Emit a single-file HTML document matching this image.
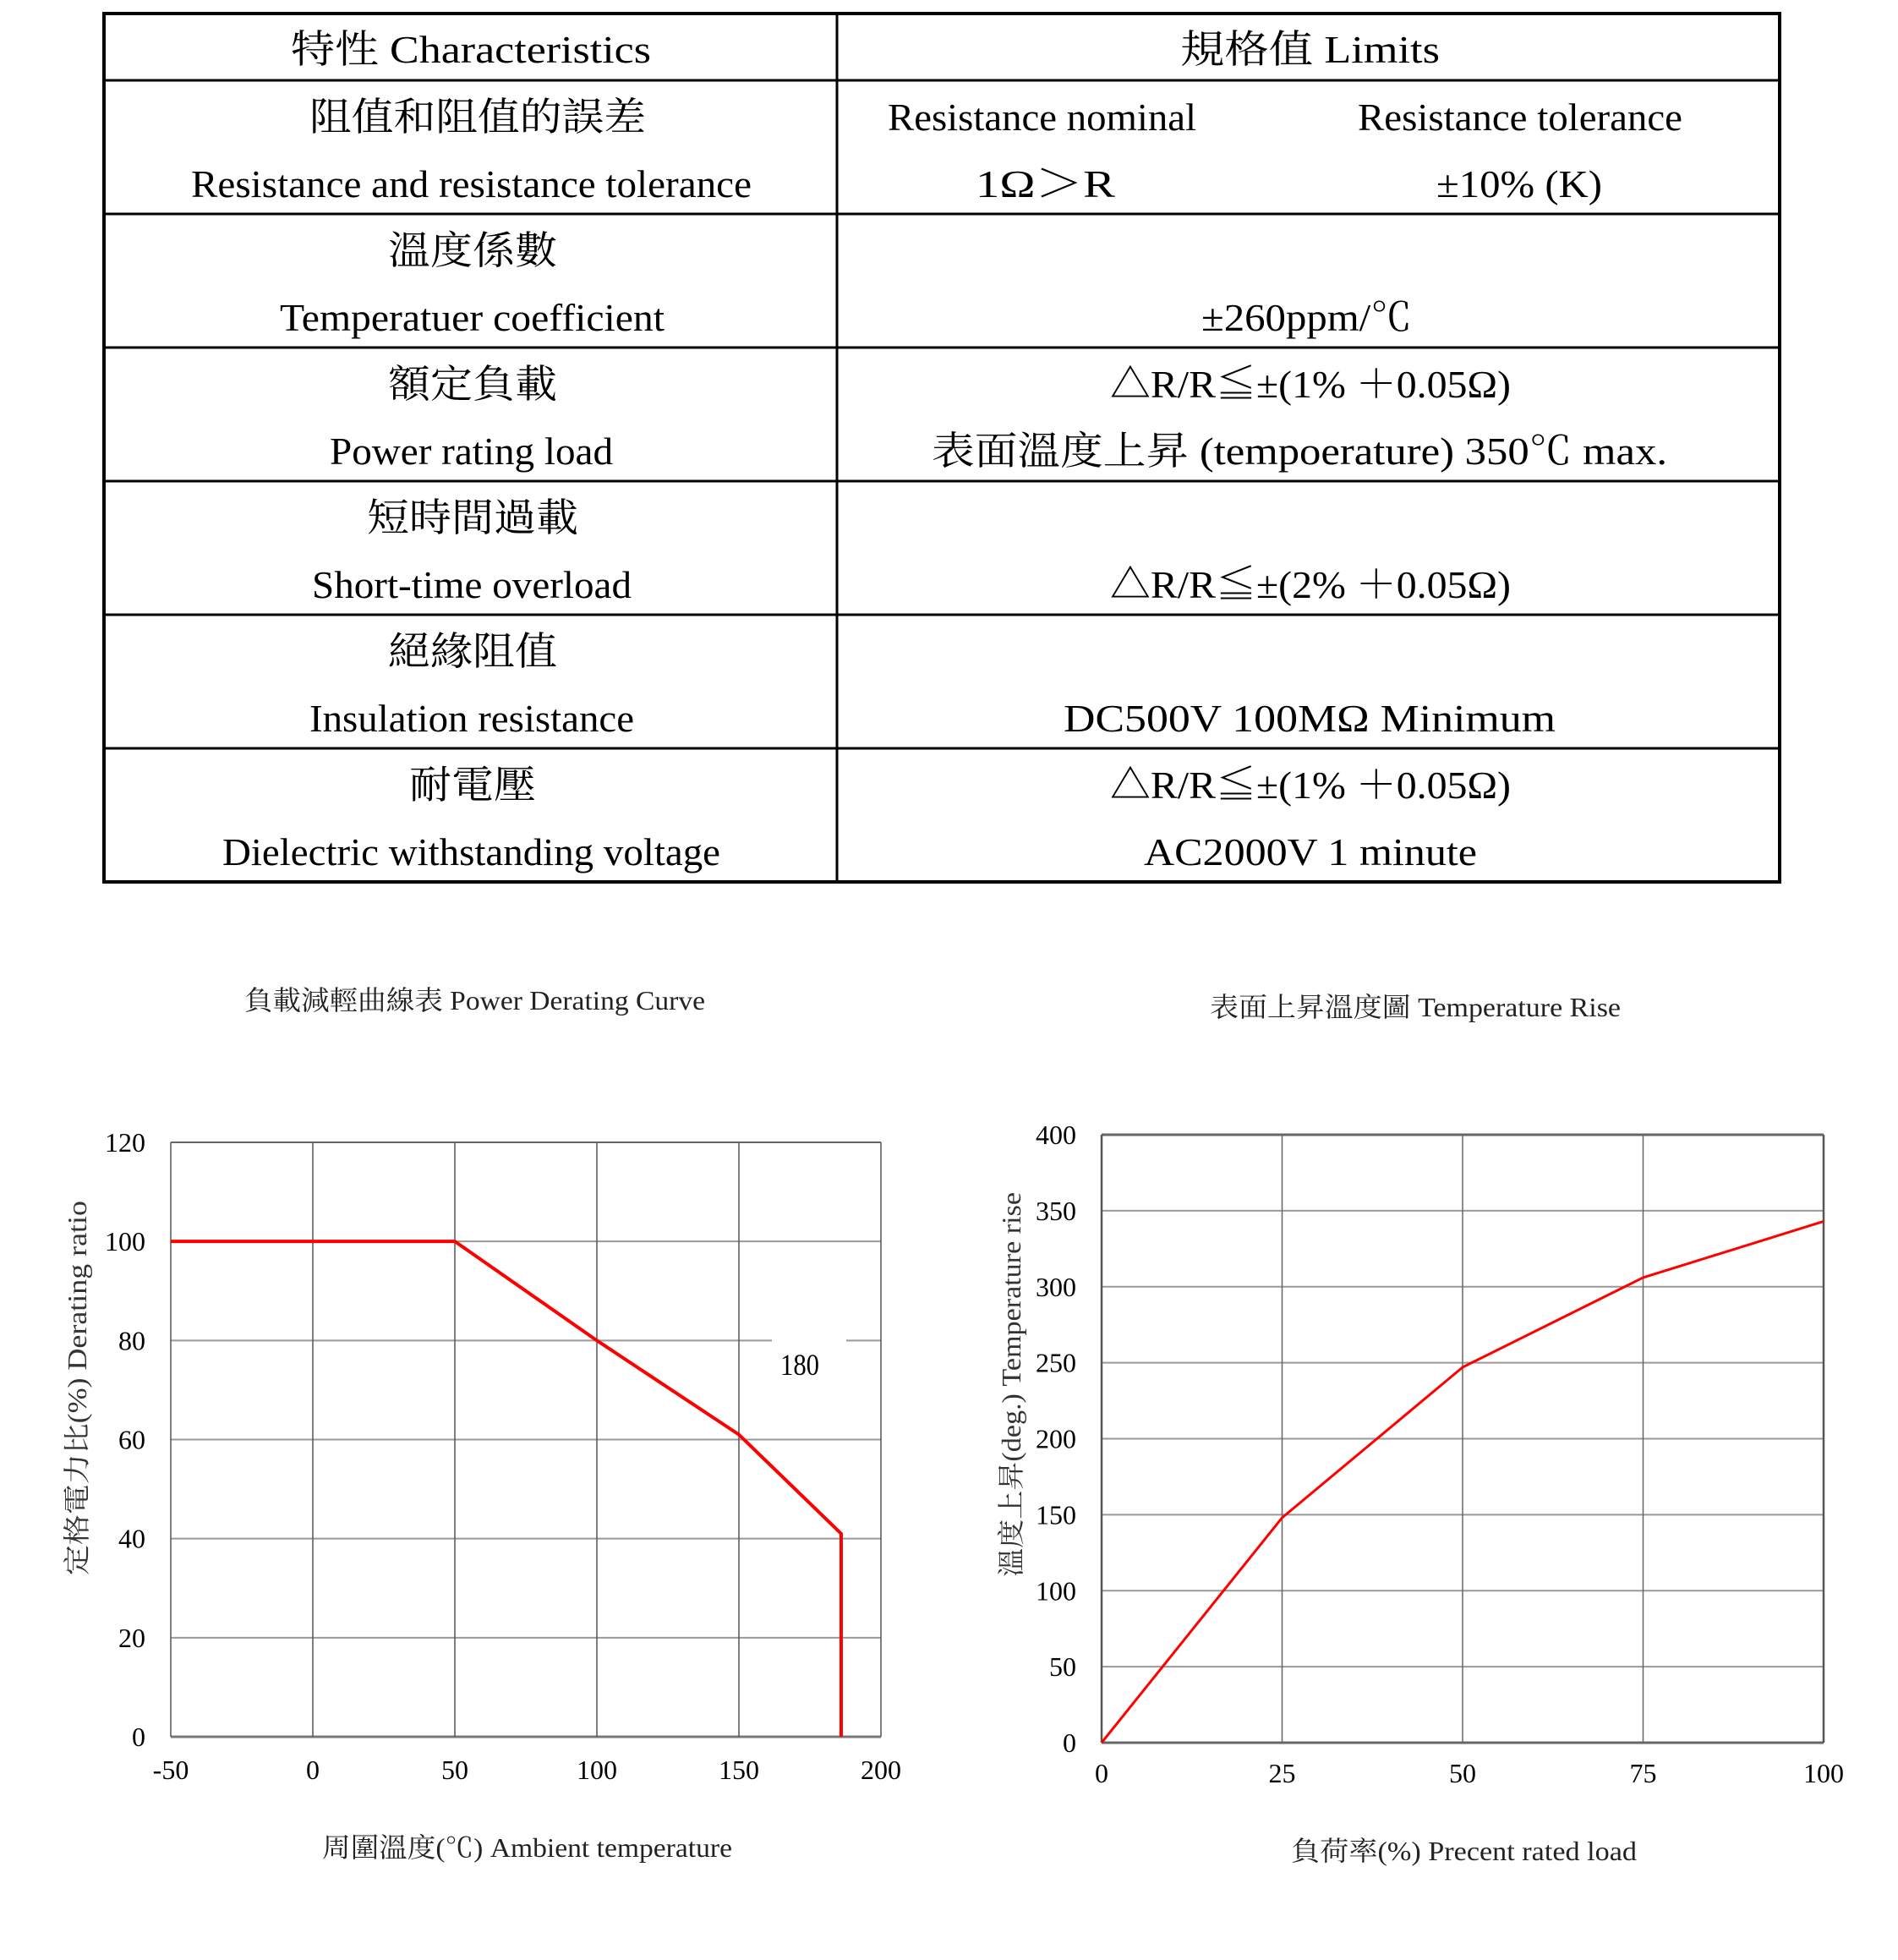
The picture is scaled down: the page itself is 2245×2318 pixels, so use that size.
<!DOCTYPE html>
<html><head><meta charset="utf-8"><style>
html,body{margin:0;padding:0;background:#fff;}
svg{display:block;}
text{font-family:"Liberation Serif","Noto Serif CJK SC","Noto Sans CJK TC",serif;}
</style></head><body>
<svg id="root" width="2245" height="2318" viewBox="0 0 2245 2318" xmlns="http://www.w3.org/2000/svg">
<g id="table"></g>
<g id="chart1"></g>
<g id="chart2"></g>
</svg>
<script>
const NS="http://www.w3.org/2000/svg";
function mk(parent,tag,attrs){const e=document.createElementNS(NS,tag);for(const k in attrs)e.setAttribute(k,attrs[k]);parent.appendChild(e);return e;}
function txt(parent,s,x,y,size,len,opts){opts=opts||{};const e=mk(parent,'text',{x:x,y:y,'font-size':size,fill:opts.fill||'#000'});
 if(len){e.setAttribute('textLength',len);e.setAttribute('lengthAdjust','spacingAndGlyphs');}
 if(opts.anchor)e.setAttribute('text-anchor',opts.anchor);
 if(opts.transform)e.setAttribute('transform',opts.transform);
 e.textContent=s;return e;}

// ---------- TABLE ----------
const T=document.getElementById('table');
const tl=123,tr=2105,split=990,rowsY=[16,95,253,411,569,727,885,1043];
const border=mk(T,'rect',{x:tl,y:16,width:tr-tl,height:1043-16,fill:'none',stroke:'#000','stroke-width':4});


mk(T,'line',{x1:split,y1:16,x2:split,y2:1043,stroke:'#000','stroke-width':3});
rowsY.slice(1,-1).forEach(y=>{mk(T,'line',{x1:tl,y1:y,x2:tr,y2:y,stroke:'#000','stroke-width':3});});
const cells=[
 ['特性  Characteristics',344,74,426],['規格值  Limits',1396,74,307],
 ['阻值和阻值的誤差',366,154,398],['Resistance and resistance tolerance',226,233,663],
 ['Resistance nominal',1050,154,365],['Resistance tolerance',1606,154,384],
 ['1Ω＞R',1154,233,165],['±10%  (K)',1699,233,196],
 ['溫度係數',459,312,200],['Temperatuer coefficient',331,391,455],['±260ppm/℃',1421,391,249],
 ['額定負載',459,470,200],['Power rating load',390,549,335],
 ['△R/R≦±(1%  ＋0.05Ω)',1313,470,474],['表面溫度上昇  (tempoerature)  350℃   max.',1102,549,870],
 ['短時間過載',434,628,250],['Short-time overload',369,707,378],['△R/R≦±(2%  ＋0.05Ω)',1313,707,474],
 ['絕緣阻值',459,786,200],['Insulation resistance',366,865,384],['DC500V  100MΩ    Minimum',1258,865,582],
 ['耐電壓',484,944,150],['Dielectric withstanding voltage',263,1023,589],
 ['△R/R≦±(1%  ＋0.05Ω)',1313,944,474],['AC2000V   1   minute',1353,1023,394]
];
cells.forEach(c=>{const e=txt(T,c[0],c[1],c[2],46,c[3]);
 
 });

// ---------- CHART 1: Power derating ----------
const c1Temp=[-50,50,100,150,186,186];
const c1Ratio=[100,100,80,61,41,0];
const c1XTicks=[-50,0,50,100,150,200];
const c1YTicks=[0,20,40,60,80,100,120];
const C1=document.getElementById('chart1');
const p1={l:202,r:1042,t:1351,b:2054};
const x1=v=>p1.l+(v-(-50))/250*(p1.r-p1.l);
const y1=v=>p1.b-v/120*(p1.b-p1.t);
c1YTicks.forEach(v=>{
 if(v===80){
  mk(C1,'line',{x1:p1.l,y1:y1(v),x2:913,y2:y1(v),stroke:'#999','stroke-width':2});
  mk(C1,'line',{x1:1001,y1:y1(v),x2:p1.r,y2:y1(v),stroke:'#999','stroke-width':2});
 } else mk(C1,'line',{x1:p1.l,y1:y1(v),x2:p1.r,y2:y1(v),stroke:(v===0?'#777':'#999'),'stroke-width':(v===0?3:2)});
 const t=txt(C1,String(v),172,y1(v)+11,32,null,{anchor:'end'});
 
 
});
c1XTicks.forEach(v=>{
 mk(C1,'line',{x1:x1(v),y1:p1.t,x2:x1(v),y2:p1.b,stroke:'#555','stroke-width':1.5});
 const t=txt(C1,String(v),x1(v),2104,32,null,{anchor:'middle'});
 
 
});
mk(C1,'line',{x1:p1.l,y1:p1.t,x2:p1.r,y2:p1.t,stroke:'#666','stroke-width':2});
const l180=txt(C1,'180',923,1626,36,46);


const pts1=c1Temp.map((t,i)=>x1(t)+','+y1(c1Ratio[i])).join(' ');
const line1=mk(C1,'polyline',{points:pts1,fill:'none',stroke:'#ff0000','stroke-width':4,'stroke-linejoin':'round'});


const t1=txt(C1,'負載減輕曲線表  Power Derating Curve',289,1194,32,545,{fill:'#222'});


const xt1=txt(C1,'周圍溫度(℃)  Ambient temperature',381,2196,32,485,{fill:'#222'});


const yt1=txt(C1,'定格電力比(%)  Derating ratio',0,0,32,443,{fill:'#333',transform:'translate(102,1863) rotate(-90)'});



// ---------- CHART 2: Temperature rise ----------
const c2Load=[0,25,50,75,100];
const c2Rise=[0,148,247,306,343];
const c2XTicks=[0,25,50,75,100];
const c2YTicks=[0,50,100,150,200,250,300,350,400];
const C2=document.getElementById('chart2');
const p2={l:1303,r:2157,t:1342,b:2061};
const x2=v=>p2.l+v/100*(p2.r-p2.l);
const y2=v=>p2.b-v/400*(p2.b-p2.t);
c2YTicks.forEach(v=>{
 mk(C2,'line',{x1:p2.l,y1:y2(v),x2:p2.r,y2:y2(v),stroke:(v===0||v===400?'#666':'#999'),'stroke-width':(v===0||v===400?3:2)});
 const t=txt(C2,String(v),1273,y2(v)+11,32,null,{anchor:'end'});
 
 
});
c2XTicks.forEach(v=>{
 mk(C2,'line',{x1:x2(v),y1:p2.t,x2:x2(v),y2:p2.b,stroke:(v===0||v===100?'#555':'#666'),'stroke-width':(v===0||v===100?2.5:1.5)});
 const t=txt(C2,String(v),x2(v),2108,32,null,{anchor:'middle'});
 
 
});
const pts2=c2Load.map((t,i)=>x2(t)+','+y2(c2Rise[i])).join(' ');
const line2=mk(C2,'polyline',{points:pts2,fill:'none',stroke:'#ff0000','stroke-width':3,'stroke-linejoin':'round'});


const t2=txt(C2,'表面上昇溫度圖  Temperature Rise',1431,1202,32,486,{fill:'#222'});


const xt2=txt(C2,'負荷率(%)  Precent rated load',1527,2200,32,409,{fill:'#222'});


const yt2=txt(C2,'溫度上昇(deg.)  Temperature rise',0,0,32,455,{fill:'#333',transform:'translate(1207,1865) rotate(-90)'});


</script>
</body></html>
